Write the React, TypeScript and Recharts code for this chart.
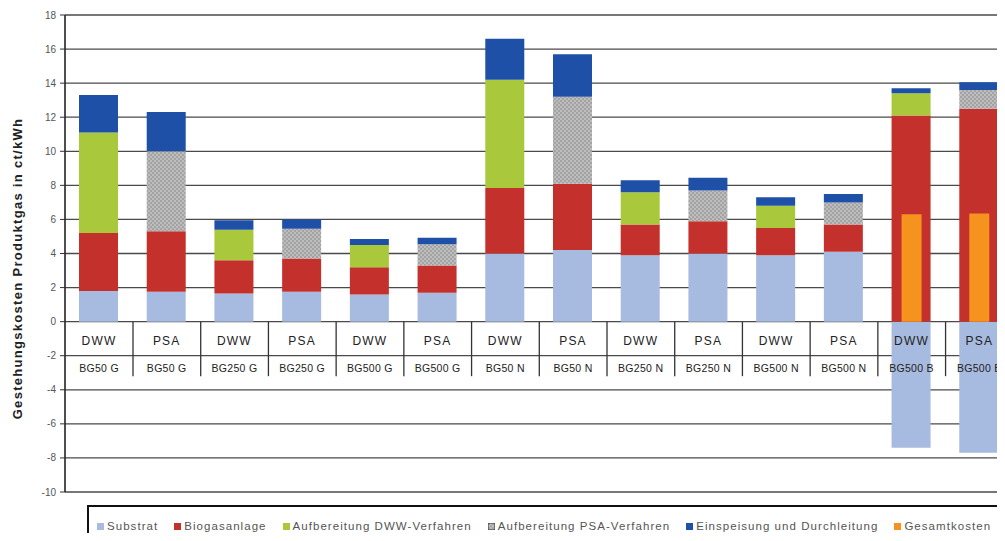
import React from 'react';
import { BarChart, Bar, XAxis, YAxis, CartesianGrid } from 'recharts';

// categories: upgrading method + plant size
const methods = ['DWW', 'PSA', 'DWW', 'PSA', 'DWW', 'PSA', 'DWW', 'PSA', 'DWW', 'PSA', 'DWW', 'PSA', 'DWW', 'PSA'];
const plants = [
  'BG50 G', 'BG50 G', 'BG250 G', 'BG250 G', 'BG500 G', 'BG500 G',
  'BG50 N', 'BG50 N', 'BG250 N', 'BG250 N', 'BG500 N', 'BG500 N',
  'BG500 B', 'BG500 B',
];

// cost components in ct/kWh
const substrat = [1.8, 1.75, 1.65, 1.75, 1.6, 1.7, 4.0, 4.2, 3.9, 4.0, 3.9, 4.1, -7.4, -7.7];
const biogasanlage = [3.4, 3.55, 1.95, 1.95, 1.6, 1.6, 3.85, 3.9, 1.8, 1.9, 1.6, 1.6, 12.1, 12.5];
const aufbereitungDWW = [5.9, null, 1.8, null, 1.3, null, 6.35, null, 1.9, null, 1.3, null, 1.3, null];
const aufbereitungPSA = [null, 4.7, null, 1.75, null, 1.25, null, 5.1, null, 1.8, null, 1.3, null, 1.1];
const einspeisung = [2.2, 2.3, 0.55, 0.55, 0.35, 0.37, 2.4, 2.5, 0.7, 0.75, 0.5, 0.5, 0.3, 0.45];
const gesamtkosten = [null, null, null, null, null, null, null, null, null, null, null, null, 6.3, 6.35];

const yTicks = [-10, -8, -6, -4, -2, 0, 2, 4, 6, 8, 10, 12, 14, 16, 18];

// bands of the label table drawn below zero
const methodBand = [-2, 0];
const plantBand = [-3.2, -2];

const data = methods.map((m, i) => ({
  name: `${m} ${plants[i]}`,
  method: m,
  plant: plants[i],
  substrat: substrat[i],
  biogasanlage: biogasanlage[i],
  dww: aufbereitungDWW[i],
  psa: aufbereitungPSA[i],
  einspeisung: einspeisung[i],
  gesamt: gesamtkosten[i],
  methodBand,
  plantBand,
}));

const FONT = '"Liberation Sans", Arial, sans-serif';

const legendItems = [
  { label: 'Substrat', color: '#a7badf' },
  { label: 'Biogasanlage', color: '#c4302b' },
  { label: 'Aufbereitung DWW-Verfahren', color: '#a9c83c' },
  { label: 'Aufbereitung PSA-Verfahren', color: 'psa' },
  { label: 'Einspeisung und Durchleitung', color: '#1e50a8' },
  { label: 'Gesamtkosten', color: '#f6921e' },
];

const MethodCell = (props: any) => {
  const { x, y, width, height, payload } = props;
  return (
    <g>
      <line x1={x + width} x2={x + width} y1={y} y2={y + height} stroke="#333" strokeWidth={1.3} />
      <text x={x + width / 2} y={y + height / 2 + 6} textAnchor="middle" fontSize={12} fill="#222"
        fontFamily={FONT} letterSpacing={1.2}>
        {payload.method}
      </text>
    </g>
  );
};

const PlantCell = (props: any) => {
  const { x, y, width, height, payload } = props;
  return (
    <g>
      <line x1={x + width} x2={x + width} y1={y} y2={y + height} stroke="#333" strokeWidth={1.3} />
      <text x={x + width / 2} y={y + height / 2 + 6} textAnchor="middle" fontSize={10.5} fill="#222"
        fontFamily={FONT} letterSpacing={0.3}>
        {payload.plant}
      </text>
    </g>
  );
};

const YLabel = (props: any) => {
  const vb = props.viewBox;
  const cx = 22;
  const cy = vb.y + vb.height / 2 + 15;
  return (
    <text x={cx} y={cy} transform={`rotate(-90, ${cx}, ${cy})`} textAnchor="middle"
      fontSize={13} fontWeight="bold" fill="#222" fontFamily={FONT} letterSpacing={1.3}>
      Gestehungskosten Produktgas in ct/kWh
    </text>
  );
};

const Marker = ({ color }: { color: string }) => (
  <svg width={7} height={7} style={{ marginRight: 3 }}>
    <rect x={0} y={0} width={7} height={7} fill={color === 'psa' ? 'url(#psaPattern)' : color}
      stroke={color === 'psa' ? '#333' : 'none'} strokeWidth={color === 'psa' ? 1 : 0} />
  </svg>
);

export default function App() {
  return (
    <div style={{ margin: -8, width: 1005, height: 541, overflow: 'hidden', position: 'relative', background: '#fff' }}>
      <svg width={0} height={0} style={{ position: 'absolute' }}>
        <defs>
          <pattern id="psaPattern" width={4} height={4} patternUnits="userSpaceOnUse">
            <rect width={4} height={4} fill="#bdbdbd" />
            <rect width={2} height={2} fill="#a3a3a3" />
            <rect x={2} y={2} width={2} height={2} fill="#a3a3a3" />
          </pattern>
        </defs>
      </svg>
      <BarChart
        width={1022}
        height={541}
        data={data}
        stackOffset="sign"
        barCategoryGap={0}
        margin={{ top: 15, right: 9, bottom: 49, left: 0 }}
      >
        <CartesianGrid vertical={false} stroke="#4a4a4a" strokeWidth={1.3} />
        <XAxis dataKey="name" hide />
        <XAxis dataKey="name" xAxisId="tot" hide />
        <XAxis dataKey="name" xAxisId="row1" hide />
        <XAxis dataKey="name" xAxisId="row2" hide />
        <YAxis
          width={65}
          domain={[-10, 18]}
          ticks={yTicks}
          interval={0}
          tick={{ fontSize: 10, fill: '#555', fontFamily: FONT }}
          tickLine={{ stroke: '#333' }}
          axisLine={{ stroke: '#222', strokeWidth: 1.6 }}
          tickSize={5}
          tickMargin={4}
          label={<YLabel />}
        />
        <Bar dataKey="substrat" stackId="a" fill="#a7badf" barSize={39} isAnimationActive={false} />
        <Bar dataKey="biogasanlage" stackId="a" fill="#c4302b" barSize={39} isAnimationActive={false} />
        <Bar dataKey="dww" stackId="a" fill="#a9c83c" barSize={39} isAnimationActive={false} />
        <Bar dataKey="psa" stackId="a" fill="url(#psaPattern)" barSize={39} isAnimationActive={false} />
        <Bar dataKey="einspeisung" stackId="a" fill="#1e50a8" barSize={39} isAnimationActive={false} />
        <Bar dataKey="gesamt" xAxisId="tot" fill="#f6921e" barSize={20} isAnimationActive={false} />
        <Bar dataKey="methodBand" xAxisId="row1" fill="none" shape={<MethodCell />} isAnimationActive={false} />
        <Bar dataKey="plantBand" xAxisId="row2" fill="none" shape={<PlantCell />} isAnimationActive={false} />
      </BarChart>
      <div
        style={{
          position: 'absolute', left: 87, top: 505, width: 960, height: 60,
          border: '2px solid #111', boxSizing: 'border-box',
          display: 'flex', alignItems: 'flex-start', paddingTop: 13, paddingLeft: 8,
          fontFamily: FONT, fontSize: 11.5, color: '#555', letterSpacing: 1.05,
        }}
      >
        {legendItems.map((it) => (
          <div key={it.label} style={{ display: 'flex', alignItems: 'center', marginRight: 16, whiteSpace: 'nowrap' }}>
            <Marker color={it.color} />
            <span>{it.label}</span>
          </div>
        ))}
      </div>
    </div>
  );
}
